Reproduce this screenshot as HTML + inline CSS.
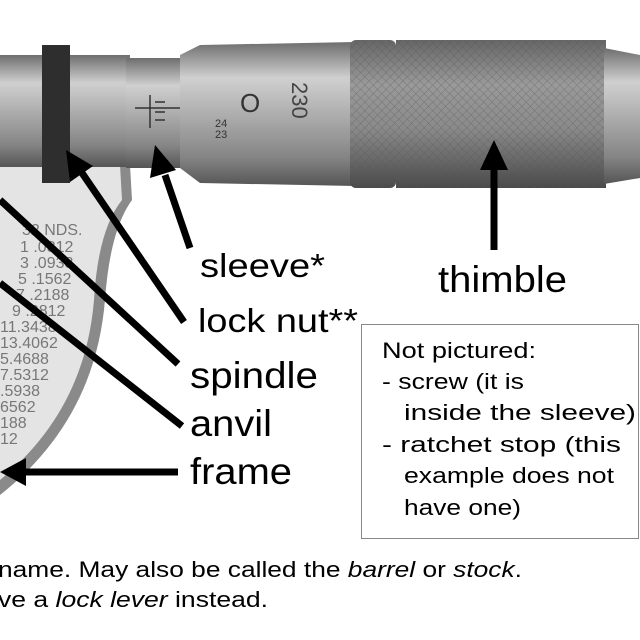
<!DOCTYPE html>
<html><head><style>
body{margin:0;background:#fff}
svg{display:block}
text{font-family:"Liberation Sans",sans-serif;fill:#000}
</style></head><body>
<svg width="640" height="640" viewBox="0 0 640 640" xmlns="http://www.w3.org/2000/svg">
<defs>
<linearGradient id="cyl" x1="0" y1="0" x2="0" y2="1">
<stop offset="0" stop-color="#6e6e6e"/><stop offset="0.25" stop-color="#d0d0d0"/><stop offset="0.45" stop-color="#b5b5b5"/><stop offset="0.8" stop-color="#858585"/><stop offset="1" stop-color="#555"/>
</linearGradient>
<linearGradient id="knurl" x1="0" y1="0" x2="0" y2="1">
<stop offset="0" stop-color="#666"/><stop offset="0.3" stop-color="#9a9a9a"/><stop offset="0.6" stop-color="#8a8a8a"/><stop offset="1" stop-color="#4a4a4a"/>
</linearGradient>
<pattern id="kp" width="6" height="6" patternUnits="userSpaceOnUse" patternTransform="rotate(45)">
<rect width="6" height="6" fill="none"/><path d="M0 0H6M0 0V6" stroke="#555" stroke-width="1" opacity="0.5"/>
</pattern>
</defs>
<path d="M0 165 L130 165 L132 200 Q110 230 105 300 Q95 420 0 495 Z" fill="#8a8a8a"/>
<path d="M0 165 L120 165 L122 200 Q98 230 94 300 Q85 410 0 480 Z" fill="#e4e4e4"/>
<g font-family="Liberation Mono" font-size="16">
<text x="22" y="235" style="fill:#777">32 NDS.</text>
<text x="20" y="252" style="fill:#777">1 .0312</text>
<text x="20" y="268" style="fill:#777">3 .0938</text>
<text x="18" y="284" style="fill:#777">5 .1562</text>
<text x="16" y="300" style="fill:#777">7 .2188</text>
<text x="12" y="316" style="fill:#777">9 .2812</text>
<text x="0" y="332" style="fill:#777">11.3438</text>
<text x="0" y="348" style="fill:#777">13.4062</text>
<text x="0" y="364" style="fill:#777">5.4688</text>
<text x="0" y="380" style="fill:#777">7.5312</text>
<text x="0" y="396" style="fill:#777">.5938</text>
<text x="0" y="412" style="fill:#777">6562</text>
<text x="0" y="428" style="fill:#777">188</text>
<text x="0" y="444" style="fill:#777">12</text>
</g>
<rect x="0" y="55" width="130" height="112" fill="url(#cyl)"/>
<rect x="42" y="45" width="28" height="138" fill="#2e2e2e"/>
<rect x="126" y="58" width="60" height="110" fill="url(#cyl)"/>
<path d="M135 108H185M150 95V128M155 102H165M155 112H165M155 120H165" stroke="#333" stroke-width="1.5" fill="none"/>
<path d="M180 55 L200 45 L355 42 L355 186 L200 183 L180 168 Z" fill="url(#cyl)"/>
<text x="240" y="112" font-size="26" style="fill:#333">O</text>
<text x="215" y="127" font-size="11" style="fill:#333">24</text>
<text x="215" y="138" font-size="11" style="fill:#333">23</text>
<text x="290" y="100" font-size="22" style="fill:#444" transform="rotate(90 300 92)">230</text>
<rect x="350" y="40" width="46" height="148" rx="6" fill="url(#knurl)"/>
<rect x="350" y="40" width="46" height="148" rx="6" fill="url(#kp)"/>
<rect x="396" y="40" width="210" height="148" fill="url(#knurl)"/>
<rect x="396" y="40" width="210" height="148" fill="url(#kp)"/>
<path d="M604 48 L640 55 L640 178 L604 184 Z" fill="url(#cyl)"/>
<g stroke="#000" stroke-width="7" fill="none">
<line x1="190" y1="248" x2="165" y2="175"/>
<line x1="184" y1="322" x2="80" y2="170"/>
<line x1="178" y1="364" x2="0" y2="200"/>
<line x1="182" y1="426" x2="0" y2="283"/>
<line x1="178" y1="472" x2="18" y2="472"/>
<line x1="494" y1="250" x2="494" y2="165"/>
</g>
<g fill="#000">
<polygon points="155,145 150,178 176,170"/>
<polygon points="66,150 70,182 93,166"/>
<polygon points="0,472 26,458 26,486"/>
<polygon points="494,140 480,170 508,170"/>
</g>
<g lengthAdjust="spacingAndGlyphs">
<text x="200" y="277" font-size="33" textLength="125" lengthAdjust="spacingAndGlyphs">sleeve*</text>
<text x="198" y="332" font-size="33" textLength="160" lengthAdjust="spacingAndGlyphs">lock nut**</text>
<text x="190" y="388" font-size="37" textLength="128" lengthAdjust="spacingAndGlyphs">spindle</text>
<text x="190" y="436" font-size="37" textLength="82" lengthAdjust="spacingAndGlyphs">anvil</text>
<text x="190" y="484" font-size="37" textLength="102" lengthAdjust="spacingAndGlyphs">frame</text>
<text x="438" y="292" font-size="37" textLength="129" lengthAdjust="spacingAndGlyphs">thimble</text>
</g>
<rect x="361.5" y="324.5" width="277" height="214" fill="#fff" stroke="#888"/>
<g font-size="22">
<text x="382" y="358" textLength="154" lengthAdjust="spacingAndGlyphs">Not pictured:</text>
<text x="382" y="389" textLength="142" lengthAdjust="spacingAndGlyphs">- screw (it is</text>
<text x="404" y="420" textLength="232" lengthAdjust="spacingAndGlyphs">inside the sleeve)</text>
<text x="382" y="452" textLength="239" lengthAdjust="spacingAndGlyphs">- ratchet stop (this</text>
<text x="404" y="483" textLength="210" lengthAdjust="spacingAndGlyphs">example does not</text>
<text x="404" y="515" textLength="117" lengthAdjust="spacingAndGlyphs">have one)</text>
</g>
<g font-size="22">
<text x="-2" y="577" textLength="524" lengthAdjust="spacingAndGlyphs">name. May also be called the <tspan font-style="italic">barrel</tspan> or <tspan font-style="italic">stock</tspan>.</text>
<text x="-2" y="607" textLength="270" lengthAdjust="spacingAndGlyphs">ve a <tspan font-style="italic">lock lever</tspan> instead.</text>
</g>
</svg>
</body></html>
